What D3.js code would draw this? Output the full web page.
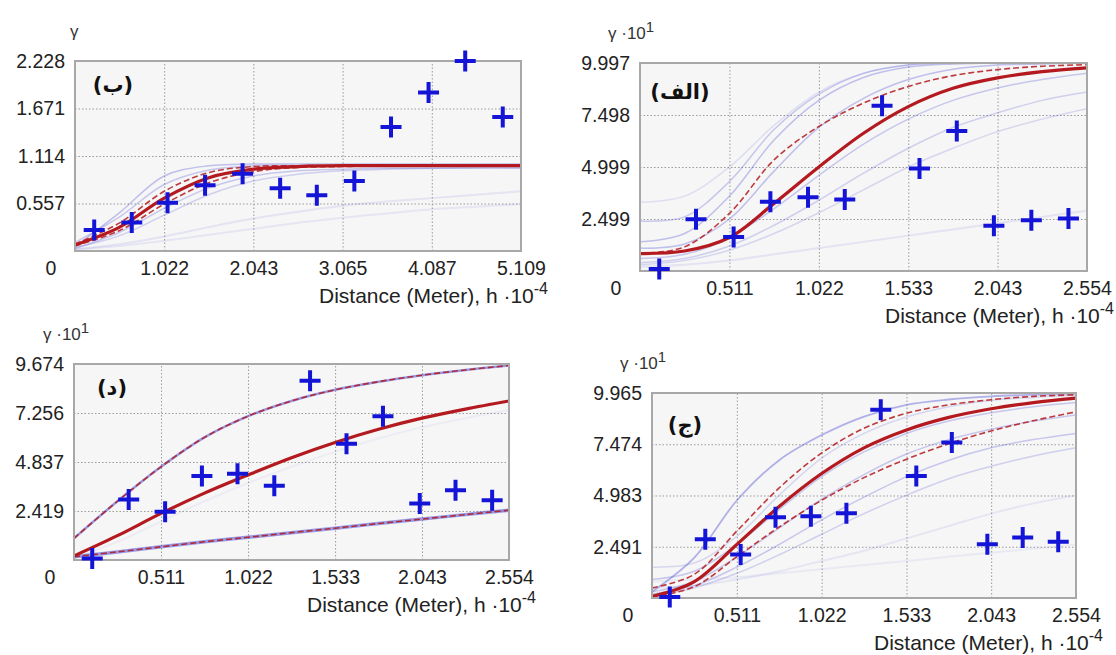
<!DOCTYPE html>
<html><head><meta charset="utf-8">
<script src="https://cdn.jsdelivr.net/npm/d3@7"></script>
<style>body{margin:0;background:#fff}svg{display:block}</style>
</head><body>
<svg id="chart" width="1116" height="655"></svg>
<script>
// ---------- DATA ----------
// Panel (ب) top-left
const ticksX_B = [0, 1.022, 2.043, 3.065, 4.087, 5.109];
const ticksY_B = [0, 0.557, 1.114, 1.671, 2.228];
const curveX_B = [0, 0.511, 1.022, 1.533, 2.043, 2.554, 3.065, 3.576, 4.087, 4.598, 5.109];
const markX_B = [0.22, 0.65, 1.06, 1.49, 1.92, 2.35, 2.77, 3.20, 3.62, 4.05, 4.47, 4.90];
const markY_B = [0.245, 0.335, 0.565, 0.772, 0.905, 0.735, 0.655, 0.82, 1.455, 1.86, 2.228, 1.572];
const redB = [0.07, 0.28, 0.62, 0.86, 0.96, 0.99, 1.0, 1.0, 1.0, 1.0, 1.0];
const dashB = [
  [0.08, 0.33, 0.70, 0.92, 0.99, 1.0, 1.0, 1.0, 1.0, 1.0, 1.0],
  [0.06, 0.24, 0.55, 0.80, 0.93, 0.98, 0.99, 1.0, 1.0, 1.0, 1.0]
];
const blueB = [
  [0.05, 0.45, 0.88, 1.0, 1.02, 1.02, 1.02, 1.02, 1.02, 1.02, 1.02],
  [0.10, 0.40, 0.78, 0.95, 1.0, 1.0, 1.0, 1.0, 1.0, 1.0, 1.0],
  [0.03, 0.22, 0.50, 0.74, 0.88, 0.94, 0.96, 0.97, 0.97, 0.97, 0.97],
  [0.04, 0.18, 0.42, 0.66, 0.82, 0.90, 0.94, 0.96, 0.97, 0.98, 0.98],
  [0.02, 0.08, 0.17, 0.28, 0.38, 0.46, 0.53, 0.58, 0.62, 0.66, 0.70],
  [0.02, 0.06, 0.12, 0.19, 0.26, 0.33, 0.39, 0.44, 0.49, 0.52, 0.55]
];

// Panel (الف) top-right
const ticksX_A = [0, 0.511, 1.022, 1.533, 2.043, 2.554];
const ticksY_A = [0, 2.499, 4.999, 7.498, 9.997];
const curveX_A = [0, 0.255, 0.511, 0.766, 1.022, 1.277, 1.533, 1.788, 2.043, 2.298, 2.554];
const markX_A = [0.11, 0.32, 0.535, 0.745, 0.96, 1.17, 1.383, 1.597, 1.81, 2.022, 2.236, 2.448];
const markY_A = [0.1, 2.49, 1.64, 3.33, 3.54, 3.44, 7.94, 4.93, 6.73, 2.17, 2.44, 2.52];
const redA = [0.84, 0.96, 1.61, 3.25, 5.0, 6.62, 7.9, 8.78, 9.28, 9.58, 9.76];
const dashA = [
  [0.84, 1.16, 2.77, 5.34, 6.95, 8.07, 8.87, 9.39, 9.68, 9.84, 9.92]
];
const blueA = [
  [3.3, 3.6, 5.0, 7.0, 8.6, 9.5, 9.9, 9.99, 10, 10, 10],
  [2.4, 2.6, 4.3, 6.8, 8.5, 9.5, 9.9, 10, 10, 10, 10],
  [1.4, 1.8, 3.6, 6.3, 8.2, 9.3, 9.8, 9.95, 10, 10, 10],
  [1.1, 1.3, 2.5, 4.8, 6.9, 8.3, 9.2, 9.7, 9.9, 9.95, 10],
  [0.6, 0.8, 1.6, 3.0, 4.6, 6.1, 7.3, 8.2, 8.8, 9.2, 9.5],
  [0.4, 0.6, 1.2, 2.2, 3.4, 4.7, 5.9, 6.9, 7.6, 8.2, 8.6],
  [0.3, 0.5, 1.0, 1.8, 2.8, 3.9, 5.0, 5.9, 6.7, 7.3, 7.8],
  [0.2, 0.3, 0.5, 0.8, 1.1, 1.4, 1.7, 2.0, 2.3, 2.6, 2.9]
];

// Panel (د) bottom-left
const ticksX_D = [0, 0.511, 1.022, 1.533, 2.043, 2.554];
const ticksY_D = [0, 2.419, 4.837, 7.256, 9.674];
const curveX_D = [0, 0.255, 0.511, 0.766, 1.022, 1.277, 1.533, 1.788, 2.043, 2.298, 2.554];
const markX_D = [0.107, 0.321, 0.535, 0.751, 0.96, 1.176, 1.386, 1.60, 1.814, 2.03, 2.24, 2.455];
const markY_D = [0.08, 2.98, 2.38, 4.15, 4.26, 3.66, 8.85, 5.74, 7.10, 2.79, 3.44, 2.95];
const redD = [0.2, 1.2, 2.3, 3.3, 4.2, 5.05, 5.8, 6.45, 7.0, 7.45, 7.85];
const dashD = [
  [1.07, 2.9, 4.6, 6.05, 7.1, 7.85, 8.4, 8.8, 9.12, 9.38, 9.6],
  [0.16, 0.4, 0.65, 0.9, 1.12, 1.35, 1.57, 1.8, 2.02, 2.24, 2.46]
];
const blueD = [
  [1.07, 2.9, 4.6, 6.05, 7.1, 7.85, 8.4, 8.8, 9.12, 9.38, 9.6],
  [0.16, 0.4, 0.65, 0.9, 1.12, 1.35, 1.57, 1.8, 2.02, 2.24, 2.46],
  [0.1, 0.9, 1.9, 2.9, 3.8, 4.6, 5.35, 6.0, 6.55, 7.0, 7.4]
];

// Panel (ج) bottom-right
const ticksX_J = [0, 0.511, 1.022, 1.533, 2.043, 2.554];
const ticksY_J = [0, 2.491, 4.983, 7.474, 9.965];
const curveX_J = [0, 0.255, 0.511, 0.766, 1.022, 1.277, 1.533, 1.788, 2.043, 2.298, 2.554];
const markX_J = [0.107, 0.321, 0.534, 0.744, 0.957, 1.171, 1.378, 1.592, 1.806, 2.02, 2.233, 2.447];
const markY_J = [0.05, 2.86, 2.12, 3.92, 3.97, 4.12, 9.15, 5.93, 7.56, 2.61, 2.94, 2.74];
const redJ = [0.08, 0.8, 2.6, 4.45, 6.05, 7.3, 8.17, 8.78, 9.2, 9.5, 9.72];
const dashJ = [
  [0.49, 1.15, 3.25, 5.35, 7.05, 8.25, 8.98, 9.39, 9.64, 9.8, 9.88],
  [0.05, 0.55, 2.0, 3.45, 4.75, 5.85, 6.75, 7.5, 8.12, 8.62, 9.05]
];
const blueJ = [
  [0.3, 1.96, 4.74, 6.70, 7.92, 8.82, 9.39, 9.65, 9.8, 9.88, 9.93],
  [1.5, 1.7, 3.0, 5.0, 6.8, 8.0, 8.8, 9.3, 9.6, 9.75, 9.85],
  [0.9, 1.3, 2.6, 4.3, 5.9, 7.1, 8.0, 8.6, 9.0, 9.3, 9.5],
  [0.3, 0.8, 2.0, 3.4, 4.8, 6.0, 7.0, 7.7, 8.2, 8.6, 8.9],
  [0.2, 0.6, 1.5, 2.6, 3.8, 4.9, 5.9, 6.7, 7.3, 7.7, 8.0],
  [0.1, 0.5, 1.2, 2.1, 3.1, 4.1, 5.0, 5.8, 6.4, 6.9, 7.3],
  [0.5, 0.6, 0.9, 1.3, 1.8, 2.3, 2.9, 3.5, 4.1, 4.6, 5.0],
  [0.8, 0.9, 1.0, 1.2, 1.4, 1.6, 1.8, 2.0, 2.2, 2.4, 2.6]
];

const panelLabels = ["(ب)", "(الف)", "(د)", "(ج)"];
const yTitleExp = ["", "1", "1", "1"];
const xTitle = "Distance (Meter), h ·10";
const xTitleExp = "-4";

// ---------- LAYOUT / STYLE ----------
const panels = [
  {id: "B", left: 75, top: 61, w: 446, h: 190, tx: ticksX_B, ty: ticksY_B, cx: curveX_B, mx: markX_B, my: markY_B,
   red: redB, dash: dashB, blue: blueB, blueOp: [0.35, 0.3, 0.3, 0.25, 0.12, 0.1], blueW: [1.5,1.5,1.5,1.5,2,2],
   label: panelLabels[0], exp: yTitleExp[0], lab: [38, 24], gx: -5},
  {id: "A", left: 640, top: 63, w: 447, h: 208, tx: ticksX_A, ty: ticksY_A, cx: curveX_A, mx: markX_A, my: markY_A,
   red: redA, dash: dashA, blue: blueA, blueOp: [0.15, 0.3, 0.35, 0.35, 0.3, 0.25, 0.2, 0.12], blueW: [1.5,1.5,1.5,1.5,1.5,1.5,1.5,2],
   label: panelLabels[1], exp: yTitleExp[1], lab: [40, 29], gx: -32},
  {id: "D", left: 74, top: 364, w: 435, h: 196, tx: ticksX_D, ty: ticksY_D, cx: curveX_D, mx: markX_D, my: markY_D,
   red: redD, dash: dashD, blue: blueD, blueOp: [0.6, 0.6, 0.06], blueW: [2.5, 3.5, 2],
   label: panelLabels[2], exp: yTitleExp[2], lab: [38, 24], gx: -31},
  {id: "J", left: 652, top: 393, w: 424, h: 205, tx: ticksX_J, ty: ticksY_J, cx: curveX_J, mx: markX_J, my: markY_J,
   red: redJ, dash: dashJ, blue: blueJ, blueOp: [0.45, 0.2, 0.3, 0.3, 0.3, 0.25, 0.1, 0.08], blueW: [1.8,1.5,1.5,1.5,1.5,1.5,2,2],
   label: panelLabels[3], exp: yTitleExp[3], lab: [33, 32], gx: -32}
];

const FONT = "'Liberation Sans', Arial, sans-serif";
const TICK_SIZE = "19.5px";
const RED = "#b3191e";
const BLUE_LINE = "#5a5ad8";
const MARK = "#1414d6";

const svg = d3.select("#chart");

panels.forEach(p => {
  const g = svg.append("g").attr("transform", `translate(${p.left},${p.top})`);
  const x = d3.scaleLinear().domain([0, p.tx[p.tx.length - 1]]).range([0, p.w]);
  const y = d3.scaleLinear().domain([0, p.ty[p.ty.length - 1]]).range([p.h, 0]);

  g.append("rect").attr("width", p.w).attr("height", p.h).attr("fill", "#f6f6f6");

  // grid + tick labels via axes
  const xa = g.append("g").attr("transform", `translate(0,${p.h})`)
    .call(d3.axisBottom(x).tickValues(p.tx.slice(1)).tickFormat(d => d3.format(".3f")(d))
      .tickSize(-p.h).tickPadding(10));
  const ya = g.append("g")
    .call(d3.axisLeft(y).tickValues(p.ty.slice(1)).tickFormat(d => d3.format(".3f")(d))
      .tickSize(-p.w).tickPadding(10));
  [xa, ya].forEach(a => {
    a.select(".domain").remove();
    a.selectAll("line").attr("stroke", "#9a9a9a").attr("stroke-width", 1).attr("stroke-dasharray", "1.5,2");
    a.selectAll("text").attr("fill", "#222").style("font-family", FONT).style("font-size", TICK_SIZE);
  });
  g.append("text").attr("x", -24).attr("y", p.h + 10).attr("dy", "0.71em")
    .attr("text-anchor", "middle").attr("fill", "#222")
    .style("font-family", FONT).style("font-size", TICK_SIZE).text("0");

  // curves (clipped)
  const clipId = "clip" + p.id;
  g.append("clipPath").attr("id", clipId).append("rect").attr("width", p.w).attr("height", p.h);
  const cg = g.append("g").attr("clip-path", `url(#${clipId})`);
  const line = d3.line().x((d, i) => x(p.cx[i])).y(d => y(d)).curve(d3.curveCatmullRom.alpha(0.5));

  p.blue.forEach((c, i) => {
    cg.append("path").attr("d", line(c)).attr("fill", "none")
      .attr("stroke", BLUE_LINE).attr("stroke-opacity", p.blueOp[i]).attr("stroke-width", p.blueW[i]);
  });
  p.dash.forEach(c => {
    cg.append("path").attr("d", line(c)).attr("fill", "none")
      .attr("stroke", RED).attr("stroke-opacity", 0.85).attr("stroke-width", 1.6).attr("stroke-dasharray", "6,3");
  });
  cg.append("path").attr("d", line(p.red)).attr("fill", "none")
    .attr("stroke", RED).attr("stroke-width", 3.2);

  // border
  g.append("rect").attr("width", p.w).attr("height", p.h).attr("fill", "none")
    .attr("stroke", "#a8a8a8").attr("stroke-width", 2);

  // markers
  g.selectAll(".mk").data(p.mx).enter().append("path")
    .attr("transform", (d, i) => `translate(${x(d)},${y(p.my[i])})`)
    .attr("d", "M-10.5,0H10.5M0,-10.5V10.5").attr("stroke", MARK).attr("stroke-width", 4).attr("fill", "none");

  // panel label
  g.append("text").attr("x", p.lab[0]).attr("y", p.lab[1]).attr("dy", "0.35em")
    .attr("text-anchor", "middle").attr("fill", "#111")
    .style("font-family", "'DejaVu Sans', sans-serif").style("font-weight", "bold").style("font-size", "21px")
    .text(p.label);

  // y title
  const yt = g.append("text").attr("x", p.gx).attr("y", -24).attr("fill", "#333")
    .style("font-family", FONT).style("font-size", "17px");
  yt.append("tspan").text(p.exp ? "γ ·10" : "γ");
  if (p.exp) yt.append("tspan").attr("dy", -7).style("font-size", "15px").text(p.exp);

  // x title
  const xt = g.append("text").attr("x", p.w + 27).attr("y", p.h + 52).attr("text-anchor", "end")
    .attr("fill", "#222").style("font-family", FONT).style("font-size", "21px");
  xt.append("tspan").text(xTitle);
  xt.append("tspan").attr("dy", -9).style("font-size", "16px").text(xTitleExp);
});
</script>
</body></html>
